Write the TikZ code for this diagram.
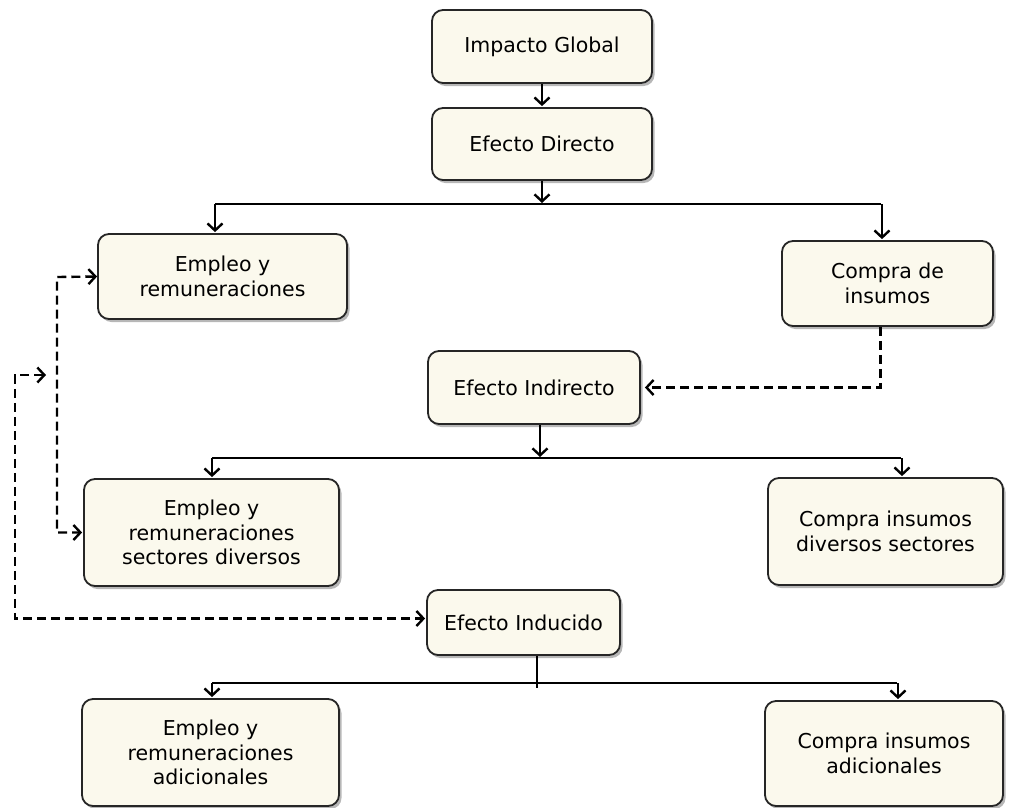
\documentclass[tikz,border=0pt]{standalone}
\usepackage{fontspec}
\setmainfont{DejaVu Sans}
\usetikzlibrary{arrows.meta,shadows}
\definecolor{crema}{RGB}{251,249,237}

\begin{document}
\begin{tikzpicture}[x=1pt,y=-1pt,->,>={Straight Barb[length=7pt,width=15pt]},line width=2.4pt,shorten >=1pt]
	\tikzstyle{caja}=[draw=black!85,line width=1.8pt,fill=crema,rounded corners=11pt,align=center,
		font=\fontsize{20.5}{24.5}\selectfont,
		drop shadow={shadow xshift=2.5pt,shadow yshift=-3pt,opacity=0.4,fill=black!70}]
	\tikzstyle{guion}=[dash pattern=on 9pt off 5pt]

	\useasboundingbox (0,0) rectangle (1015,807);

	\node[caja,minimum width=220,minimum height=73] (glob) at (542,46.5) {Impacto Global};
	\node[caja,minimum width=220,minimum height=72] (dir) at (542,144) {Efecto Directo};
	\node[caja,minimum width=249,minimum height=85] (emp) at (222.5,276.5) {Empleo y\\remuneraciones};
	\node[caja,minimum width=211,minimum height=85] (comp) at (887.5,283.5) {Compra de\\insumos};
	\node[caja,minimum width=212,minimum height=73] (indir) at (534,387.5) {Efecto Indirecto};
	\node[caja,minimum width=255,minimum height=107] (emp2) at (211.5,532.5) {Empleo y\\remuneraciones\\sectores diversos};
	\node[caja,minimum width=235,minimum height=107] (comp2) at (885.5,531.5) {Compra insumos\\diversos sectores};
	\node[caja,minimum width=193,minimum height=65] (indu) at (523.5,622.5) {Efecto Inducido};
	\node[caja,minimum width=257,minimum height=107] (emp3) at (210.5,752.5) {Empleo y\\remuneraciones\\adicionales};
	\node[caja,minimum width=238,minimum height=105] (comp3) at (884,753.5) {Compra insumos\\adicionales};

	% barras de reparto
	\coordinate (b1) at (542,204);
	\coordinate (b1l) at (215,204);
	\coordinate (b1r) at (882,204);
	\coordinate (b2) at (540,458);
	\coordinate (b2l) at (212,458);
	\coordinate (b2r) at (902,458);
	\coordinate (b3) at (537,689);
	\coordinate (b3l) at (212,683);
	\coordinate (b3r) at (898,683);

	\path (glob) edge (dir);
	\path (dir) edge (b1);
	\draw[-] (b1l) -- (b1r);
	\draw (b1l) -- (b1l |- emp.north);
	\draw (b1r) -- (b1r |- comp.north);

	\draw (indir.south -| b2) -- (b2);
	\draw[-] (b2l) -- (b2r);
	\draw (b2l) -- (b2l |- emp2.north);
	\draw (b2r) -- (b2r |- comp2.north);

	\draw[-] (indu.south -| b3) -- (b3);
	\draw[-] (b3l) -- (b3r);
	\draw (b3l) -- (b3l |- emp3.north);
	\draw (b3r) -- (b3r |- comp3.north);

	% lineas discontinuas
	\coordinate (l1) at (57,277);
	\coordinate (l2a) at (46,375);
	\coordinate (l2b) at (15,375);
	\draw[guion,shorten >=4pt] ([xshift=-7pt]comp.south) |- (indir.east);
	\draw[guion,<->] (emp.west) -- (l1) |- (emp2.west);
	\draw[guion,<->] (l2a) -- (l2b) |- ([yshift=4pt]indu.west);
\end{tikzpicture}
\end{document}
